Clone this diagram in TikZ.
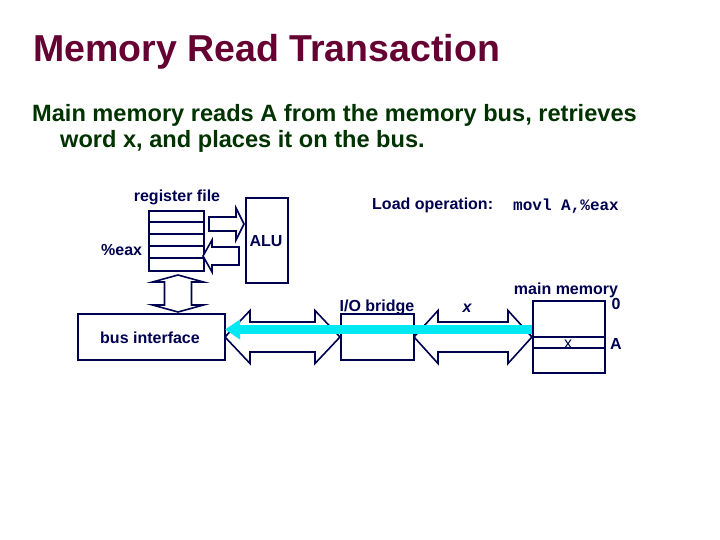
\documentclass[tikz,border=0pt]{standalone}
\usepackage{fontspec}
\setmainfont{Liberation Sans}
\setmonofont{Liberation Mono}
\usetikzlibrary{arrows.meta,calc}
\definecolor{navy}{RGB}{0,0,80}
\definecolor{titlec}{RGB}{102,0,51}
\definecolor{subc}{RGB}{0,51,0}
\definecolor{buscol}{RGB}{0,232,242}
% horizontal double block arrow: xL xR yc halfshaft halfhead headlen
\newcommand\hdarrow[6]{(#1,#3) -- ({#1+(#6)},{#3-(#5)}) -- ({#1+(#6)},{#3-(#4)}) -- ({#2-(#6)},{#3-(#4)}) -- ({#2-(#6)},{#3-(#5)}) -- (#2,#3) -- ({#2-(#6)},{#3+(#5)}) -- ({#2-(#6)},{#3+(#4)}) -- ({#1+(#6)},{#3+(#4)}) -- ({#1+(#6)},{#3+(#5)}) -- cycle}
% vertical double block arrow: yT yB xc halfshaft halfhead headlen
\newcommand\vdarrow[6]{(#3,#1) -- ({#3+(#5)},{#1+(#6)}) -- ({#3+(#4)},{#1+(#6)}) -- ({#3+(#4)},{#2-(#6)}) -- ({#3+(#5)},{#2-(#6)}) -- (#3,#2) -- ({#3-(#5)},{#2-(#6)}) -- ({#3-(#4)},{#2-(#6)}) -- ({#3-(#4)},{#1+(#6)}) -- ({#3-(#5)},{#1+(#6)}) -- cycle}
% single block arrow: xTail xTip yc halfshaft halfhead signed headlen
\newcommand\sarrow[6]{(#1,{#3-(#4)}) -- ({#2-(#6)},{#3-(#4)}) -- ({#2-(#6)},{#3-(#5)}) -- (#2,#3) -- ({#2-(#6)},{#3+(#5)}) -- ({#2-(#6)},{#3+(#4)}) -- (#1,{#3+(#4)}) -- cycle}
\begin{document}
\begin{tikzpicture}[x=1pt,y=-1pt,
  box/.style={draw=navy,line width=1.6pt,inner sep=0pt,anchor=north west},
  sep/.style={draw=navy,line width=1.6pt},
  blk/.style={draw=navy,line width=1.6pt,fill=white,line join=miter},
  lbl/.style={text=navy,font=\bfseries\fontsize{16}{18}\selectfont,inner sep=0pt},
  busline/.style={draw=buscol,line width=9pt,-{Triangle[length=15pt,width=19pt]}}]
\useasboundingbox[fill=white] (0,0) rectangle (720,540);
% title and subtitle
\node[anchor=base west,inner sep=0pt,text=titlec,font=\bfseries\fontsize{37.5}{40}\selectfont] (title) at (33,62) {Memory Read Transaction};
\node[anchor=base west,inner sep=0pt,text=subc,font=\bfseries\fontsize{23.6}{26}\selectfont] (sub1) at (32,122) {Main memory reads A from the memory bus, retrieves};
\node[anchor=base west,inner sep=0pt,text=subc,font=\bfseries\fontsize{23.6}{26}\selectfont] (sub2) at (60,148) {word x, and places it on the bus.};
% boxes
\node[box,minimum width=55pt,minimum height=60pt] (rf) at (148,210) {};
\foreach \k in {1,...,4} \draw[sep] ($(rf.north west)+(0,12*\k)$) -- ($(rf.north east)+(0,12*\k)$);
\node[box,minimum width=42pt,minimum height=85pt] (alu) at (245,197) {};
\node[box,minimum width=147pt,minimum height=46pt] (busif) at (77,313) {};
\node[box,minimum width=73pt,minimum height=46pt] (iob) at (340,313) {};
\node[box,minimum width=72pt,minimum height=72pt] (mm) at (532,300) {};
\draw[sep] ($(mm.north west)+(0,37)$) -- ($(mm.north east)+(0,37)$);
\draw[sep] ($(mm.north west)+(0,48)$) -- ($(mm.north east)+(0,48)$);
% block arrows
\draw[blk] \sarrow{209}{244}{224}{7}{16}{8};
\draw[blk] \sarrow{239}{203}{256}{9}{16}{-9};
\draw[blk] \vdarrow{275}{312}{178}{13.5}{25.5}{7};
\draw[blk] \hdarrow{225}{340}{337}{15}{26.5}{25};
\draw[blk] \hdarrow{414}{532}{337}{15}{26.5}{24};
% bus transfer
\coordinate (busend) at (532,329.5);
\coordinate (bustip) at (225,329.5);
\draw[busline] (busend) -- (bustip);
% labels
\node[lbl,anchor=base] (lrf) at (177,202) {register file};
\node[lbl,anchor=base west] (leax) at (101,255) {\%eax};
\node[lbl,anchor=base] (lalu) at (266,246) {ALU};
\node[lbl,anchor=base west] (lload) at (372,210) {Load operation:};
\node[anchor=base west,inner sep=0pt,text=navy,font=\ttfamily\bfseries\fontsize{16}{18}\selectfont] (lmovl) at (513,211) {movl A,\%eax};
\node[lbl,anchor=base] (lbus) at (150,343) {bus interface};
\node[lbl,anchor=base] (liob) at (377,311) {I/O bridge};
\node[lbl,anchor=base,font=\bfseries\itshape\fontsize{16}{18}\selectfont] (lx) at (467,312) {x};
\node[lbl,anchor=base] (lmm) at (566,294) {main memory};
\node[lbl,anchor=base] (l0) at (616,309) {0};
\node[lbl,anchor=base] (lA) at (616,349) {A};
\node[lbl,anchor=base,font=\fontsize{16}{18}\selectfont] (lxm) at (568,348) {x};
\end{tikzpicture}
\end{document}
